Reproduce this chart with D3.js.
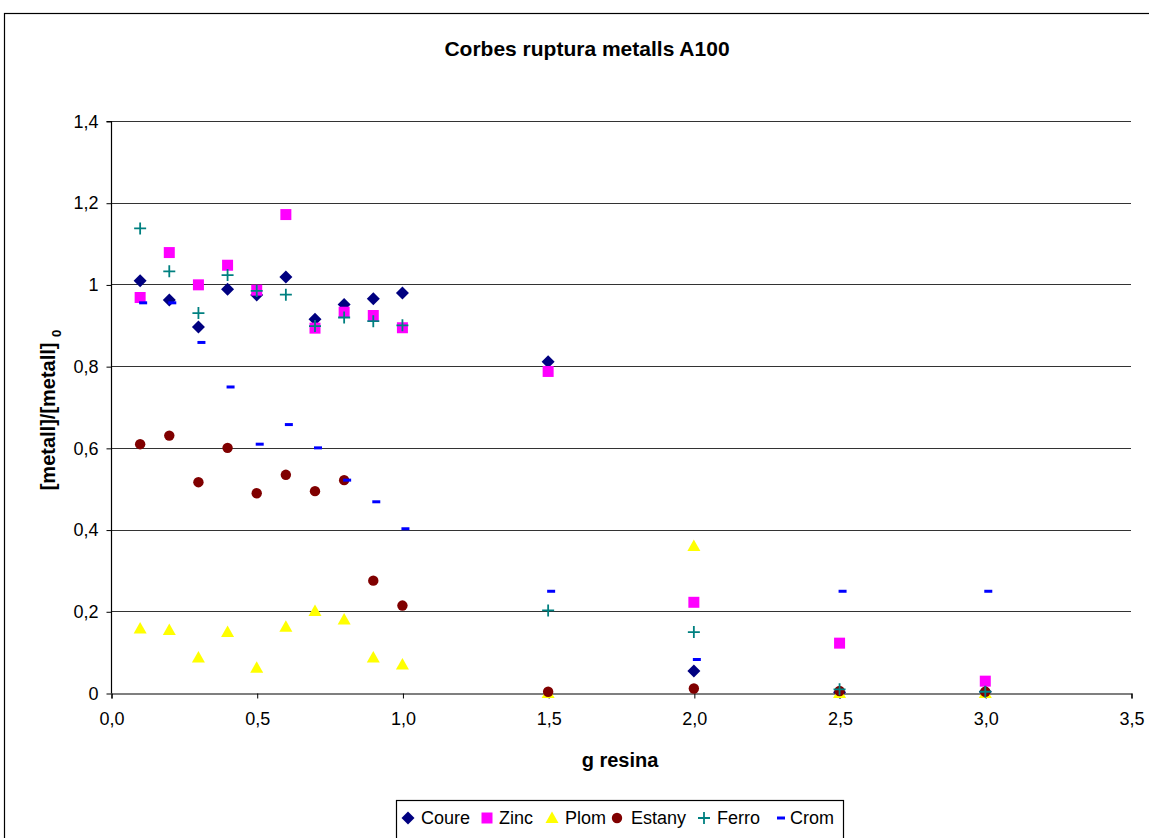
<!DOCTYPE html>
<html><head><meta charset="utf-8">
<script src="https://cdn.jsdelivr.net/npm/d3@7"></script>
<style>
html,body{margin:0;padding:0;background:#fff;}
svg{display:block;font-family:"Liberation Sans",Arial,sans-serif;}
</style></head>
<body>
<svg id="chart" width="1149" height="838"></svg>
<script>
const title = "Corbes ruptura metalls A100";
const xValues = [0.1,0.2,0.3,0.4,0.5,0.6,0.7,0.8,0.9,1.0,1.5,2.0,2.5,3.0];
const coure  = [1.009,0.962,0.896,0.988,0.974,1.018,0.915,0.951,0.965,0.979,0.811,0.054,0.002,0.003];
const zinc   = [0.968,1.078,0.999,1.047,0.986,1.171,0.893,0.932,0.924,0.894,0.787,0.222,0.122,0.029];
const plom   = [0.158,0.154,0.087,0.149,0.062,0.162,0.201,0.180,0.087,0.070,0.000,0.360,0.000,0.000];
const estany = [0.609,0.630,0.516,0.600,0.489,0.534,0.494,0.521,0.275,0.214,0.003,0.011,0.005,0.003];
const ferro  = [1.137,1.032,0.930,1.023,0.984,0.975,0.898,0.919,0.910,0.900,0.202,0.149,0.009,0.003];
const crom   = [0.955,0.955,0.858,0.749,0.609,0.657,0.600,0.521,0.468,0.402,0.249,0.082,0.249,0.249];
const seriesNames = ["Coure","Zinc","Plom","Estany","Ferro","Crom"];
const xTicks = [0,0.5,1,1.5,2,2.5,3,3.5];
const xTickLabels = ["0,0","0,5","1,0","1,5","2,0","2,5","3,0","3,5"];
const yTicks = [0,0.2,0.4,0.6,0.8,1.0,1.2,1.4];
const yTickLabels = ["0","0,2","0,4","0,6","0,8","1","1,2","1,4"];

const seriesData = [coure,zinc,plom,estany,ferro,crom];
const colors = ["#000080","#FF00FF","#FFFF00","#800000","#008080","#0000FF"];
const shapes = ["diamond","square","triangle","circle","plus","dash"];

const svg = d3.select("#chart");
const L = 111, R = 1131, T = 121, B = 693;
const x = d3.scaleLinear().domain([0,3.5]).range([L,R]);
const y = d3.scaleLinear().domain([0,1.4]).range([B,T]);

// outer frame
svg.append("rect").attr("x",4.5).attr("y",13.5).attr("width",1160).attr("height",840)
  .attr("fill","none").attr("stroke","#000").attr("stroke-width",1.2);

// gridlines
svg.append("g").selectAll("line").data(yTicks.filter(d=>d>0)).join("line")
  .attr("x1",L).attr("x2",R).attr("y1",d=>Math.round(y(d))+0.5).attr("y2",d=>Math.round(y(d))+0.5)
  .attr("stroke","#333").attr("stroke-width",1);

// axes
const yAxis = d3.axisLeft(y).tickValues(yTicks).tickFormat((d,i)=>yTickLabels[i]).tickSize(5).tickPadding(8);
const gy = svg.append("g").attr("transform",`translate(${L+0.5},0.5)`).call(yAxis);
const xAxis = d3.axisBottom(x).tickValues(xTicks).tickFormat((d,i)=>xTickLabels[i]).tickSize(5).tickPadding(14);
const gx = svg.append("g").attr("transform",`translate(0.5,${B+0.5})`).call(xAxis);
[gx,gy].forEach(g=>{
  g.select(".domain").attr("stroke","#000").attr("stroke-width",1.2);
  g.selectAll(".tick line").attr("stroke","#000");
  g.selectAll("text").attr("font-family","Liberation Sans, Arial, sans-serif").attr("font-size",18).attr("fill","#000");
});
gy.select(".domain").attr("d",`M-5,${T}H0V${B}`);

// titles
svg.append("text").attr("x",587).attr("y",56).attr("text-anchor","middle")
  .attr("font-weight","bold").attr("font-size",21).text(title);
svg.append("text").attr("x",620).attr("y",767).attr("text-anchor","middle")
  .attr("font-weight","bold").attr("font-size",20).text("g resina");
const yl = svg.append("text").attr("transform","translate(55,410) rotate(-90)").attr("text-anchor","middle")
  .attr("font-weight","bold").attr("font-size",20);
yl.append("tspan").text("[metall]/[metall] ");
yl.append("tspan").attr("font-size",13).attr("dy",6).text("0");

// marker path generator
function markerPath(shape){
  switch(shape){
    case "diamond": return "M0,-6.5L6.5,0L0,6.5L-6.5,0Z";
    case "square": return "M-5.5,-5.5H5.5V5.5H-5.5Z";
    case "triangle": return "M0,-6.5L6.5,5L-6.5,5Z";
    case "circle": return d3.symbol(d3.symbolCircle, 85)();
    case "plus": return "M-6,0H6M0,-6V6";
    case "dash": return "M0,-1.5H8V1.5H0Z";
  }
}
function drawMarker(sel, shape, color){
  sel.append("path").attr("d",markerPath(shape))
    .attr("fill", shape==="plus" ? "none" : color)
    .attr("stroke", shape==="plus" ? color : "none")
    .attr("stroke-width", shape==="plus" ? 1.8 : 0);
}

// points
seriesData.forEach((data,si)=>{
  const g = svg.append("g");
  data.forEach((v,i)=>{
    const dx = shapes[si]==="dash" ? -1 : 0;
    const m = g.append("g").attr("transform",`translate(${x(xValues[i])+dx},${y(v)})`);
    drawMarker(m, shapes[si], colors[si]);
  });
});

// legend
const lg = svg.append("g");
lg.append("rect").attr("x",396.5).attr("y",800.5).attr("width",447).attr("height",60)
  .attr("fill","#fff").attr("stroke","#000").attr("stroke-width",1.2);
const legendX = [408,487,552,617,704,777];
const legendTX = [421,499,565,631,717,790];
seriesNames.forEach((n,i)=>{
  const m = lg.append("g").attr("transform",`translate(${legendX[i]},818)`);
  drawMarker(m, shapes[i], colors[i]);
  lg.append("text").attr("x",legendTX[i]).attr("y",824).attr("font-size",18).text(n);
});
</script>
</body></html>
